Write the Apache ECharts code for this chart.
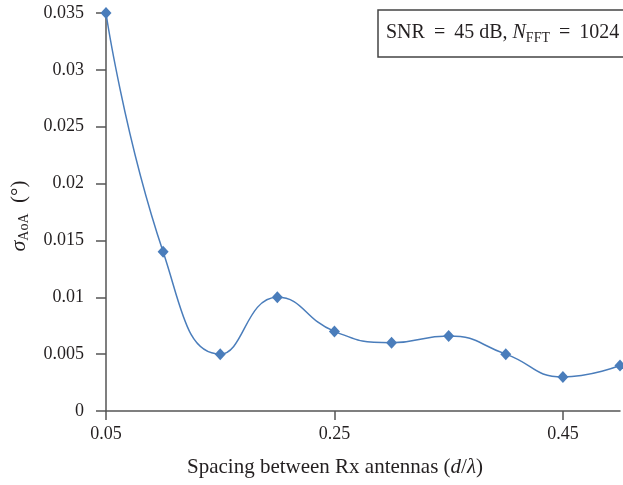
<!DOCTYPE html>
<html>
<head>
<meta charset="utf-8">
<script src="https://cdn.jsdelivr.net/npm/echarts@6/dist/echarts.min.js"></script>
<style>html,body{margin:0;padding:0;background:#fff;}#c{width:623px;height:485px;}</style>
</head>
<body>
<div id="c"></div>
<script>
const spacing = [0.05, 0.10, 0.15, 0.20, 0.25, 0.30, 0.35, 0.40, 0.45, 0.50];
const sigmaAoA = [0.035, 0.014, 0.005, 0.010, 0.007, 0.006, 0.0066, 0.005, 0.003, 0.004];
const xTicks = [0.05, 0.25, 0.45];
const yTicks = [0, 0.005, 0.01, 0.015, 0.02, 0.025, 0.03, 0.035];

const FONT = '"Liberation Serif", "DejaVu Serif", serif';
const TXT = '#231f20';
const AX = '#555555';

const chart = echarts.init(document.getElementById('c'), null, {renderer: 'canvas'});
chart.setOption({
  animation: false,
  backgroundColor: '#fff',
  grid: {left: 106, right: 3, top: 13, bottom: 74, containLabel: false},
  xAxis: {
    type: 'value', min: 0.05, max: 0.5,
    axisLine: {show: true, lineStyle: {color: AX, width: 1.5}},
    axisTick: {show: true, length: 9, inside: false, customValues: xTicks, lineStyle: {color: AX, width: 1.5}},
    axisLabel: {customValues: xTicks, margin: 14, fontFamily: FONT, fontSize: 18, color: TXT,
      formatter: v => String(Math.round(v * 100) / 100)},
    splitLine: {show: false}
  },
  yAxis: {
    type: 'value', min: 0, max: 0.035, interval: 0.005,
    axisLine: {show: true, lineStyle: {color: AX, width: 1.5}},
    axisTick: {show: true, length: 10, inside: false, lineStyle: {color: AX, width: 1.5}},
    axisLabel: {margin: 22, fontFamily: FONT, fontSize: 18, color: TXT,
      formatter: v => String(Math.round(v * 1000) / 1000)},
    splitLine: {show: false}
  },
  series: [{
    type: 'line',
    data: spacing.map((x, i) => [x, sigmaAoA[i]]),
    smooth: 0.5,
    symbol: 'diamond',
    symbolSize: [11, 12],
    clip: false,
    lineStyle: {color: '#4a7dbb', width: 1.5},
    itemStyle: {color: '#4a7dbb'}
  }],
  graphic: [
    {type: 'rect', shape: {x: 378, y: 10, width: 300, height: 47},
      style: {fill: 'none', stroke: '#444', lineWidth: 1.5}, z: 10},
    {type: 'text', x: 386, y: 33, z: 11,
      style: {
        text: '{n|SNR \u2009= \u200945 dB, }{i|N}{s|FFT}{n| \u2009= \u20091024}',
        verticalAlign: 'middle',
        rich: {
          n: {fontFamily: FONT, fontSize: 20, fill: TXT},
          i: {fontFamily: FONT, fontSize: 20, fontStyle: 'italic', fill: TXT},
          s: {fontFamily: FONT, fontSize: 14, fill: TXT, padding: [10, 0, 0, 0]}
        }
      }},
    {type: 'text', x: 335, y: 467, z: 11,
      style: {
        text: '{n|Spacing between Rx antennas (}{i|d}{n|/}{i|λ}{n|)}',
        align: 'center', verticalAlign: 'middle',
        rich: {
          n: {fontFamily: FONT, fontSize: 21, fill: TXT},
          i: {fontFamily: FONT, fontSize: 21, fontStyle: 'italic', fill: TXT}
        }
      }},
    {type: 'text', x: 19, y: 216, rotation: Math.PI / 2, z: 11,
      style: {
        text: '{i|σ}{s|AoA}{n|  (°)}',
        align: 'center', verticalAlign: 'middle',
        rich: {
          n: {fontFamily: FONT, fontSize: 21, fill: TXT},
          i: {fontFamily: FONT, fontSize: 22, fontStyle: 'italic', fill: TXT},
          s: {fontFamily: FONT, fontSize: 14, fill: TXT, padding: [10, 0, 0, 0]}
        }
      }}
  ]
});
</script>
</body>
</html>
